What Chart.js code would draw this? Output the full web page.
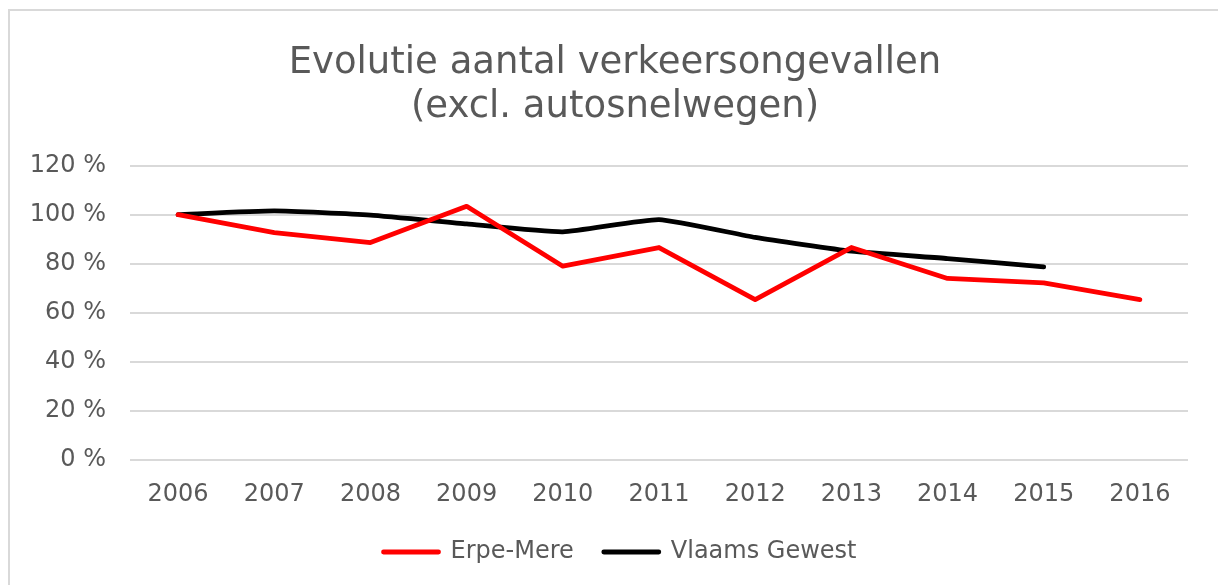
<!DOCTYPE html>
<html>
<head>
<meta charset="utf-8">
<script src="https://cdn.jsdelivr.net/npm/chart.js@4"></script>
<style>
  html, body { margin: 0; padding: 0; background: #fff; }
  #wrap { position: relative; width: 1218px; height: 585px; overflow: hidden; }
  #frame { position: absolute; left: 8px; top: 9px; width: 1300px; height: 700px;
           border-top: 2px solid #d9d9d9; border-left: 2px solid #d9d9d9; }
  canvas { position: absolute; left: 0; top: 0; }
</style>
</head>
<body>
<div id="wrap">
  <div id="frame"></div>
  <canvas id="chart" width="1218" height="585"></canvas>
</div>
<script>
// jaren
const years = ["2006", "2007", "2008", "2009", "2010", "2011", "2012", "2013", "2014", "2015", "2016"];

// index 2006 = 100 %
const erpeMere = [100, 92.7, 88.6, 103.4, 79, 86.6, 65.4, 86.6, 74, 72.2, 65.4];
const vlaamsGewest = [100, 101.5, 99.8, 96.2, 93, 98, 90.7, 85.1, 82.1, 78.7];

const seriesNames = ["Erpe-Mere", "Vlaams Gewest"];
const titleLines = ["Evolutie aantal verkeersongevallen", "(excl. autosnelwegen)"];

const textColor = "#595959";
const gridColor = "#d9d9d9";
const font = "'DejaVu Sans', Verdana, sans-serif";

// titel en legenda iets naar rechts, zoals in Excel
const shiftBoxes = {
  id: "shiftBoxes",
  afterLayout(c) {
    c.titleBlock.left += 21;
    c.titleBlock.right += 21;
    c.legend.left += 26;
    c.legend.right += 26;
  }
};

const chart = new Chart(document.getElementById("chart"), {
  type: "line",
  data: {
    labels: years,
    datasets: [
      {
        label: seriesNames[0],
        data: erpeMere,
        borderColor: "#ff0000",
        backgroundColor: "#ff0000",
        borderWidth: 4.8,
        borderCapStyle: "round",
        borderJoinStyle: "round",
        pointRadius: 0,
        tension: 0
      },
      {
        label: seriesNames[1],
        data: vlaamsGewest,
        borderColor: "#000000",
        backgroundColor: "#000000",
        borderWidth: 4.8,
        borderCapStyle: "round",
        borderJoinStyle: "round",
        pointRadius: 0,
        tension: 0.15
      }
    ]
  },
  options: {
    responsive: false,
    animation: false,
    layout: { padding: { left: 0, right: 30, top: 0, bottom: 11 } },
    plugins: {
      tooltip: { enabled: false },
      title: {
        display: true,
        text: titleLines,
        color: textColor,
        font: { family: font, size: 37, weight: "normal", lineHeight: 1.17 },
        padding: { top: 42, bottom: 37 }
      },
      legend: {
        position: "bottom",
        labels: {
          color: textColor,
          font: { family: font, size: 24 },
          usePointStyle: true,
          pointStyle: "line",
          pointStyleWidth: 55,
          padding: 30,
          generateLabels: c => c.data.datasets.map((ds, i) => ({
            text: ds.label,
            strokeStyle: ds.borderColor,
            fillStyle: ds.borderColor,
            lineWidth: 4.8,
            lineCap: "round",
            pointStyle: "line",
            fontColor: textColor,
            datasetIndex: i,
            hidden: false
          }))
        }
      }
    },
    scales: {
      x: {
        offset: true,
        grid: { display: false, drawTicks: false },
        border: { display: false },
        ticks: { color: textColor, font: { family: font, size: 24 }, padding: 20, maxRotation: 0 },
        afterFit: s => { s.height = 50; }
      },
      y: {
        min: 0,
        max: 120,
        grid: { color: gridColor, lineWidth: 2, drawTicks: false },
        border: { display: false },
        ticks: {
          stepSize: 20,
          color: textColor,
          font: { family: font, size: 24 },
          padding: 24,
          callback: v => v + " %"
        },
        afterFit: s => { s.width = 130; }
      }
    }
  },
  plugins: [shiftBoxes]
});
</script>
</body>
</html>
